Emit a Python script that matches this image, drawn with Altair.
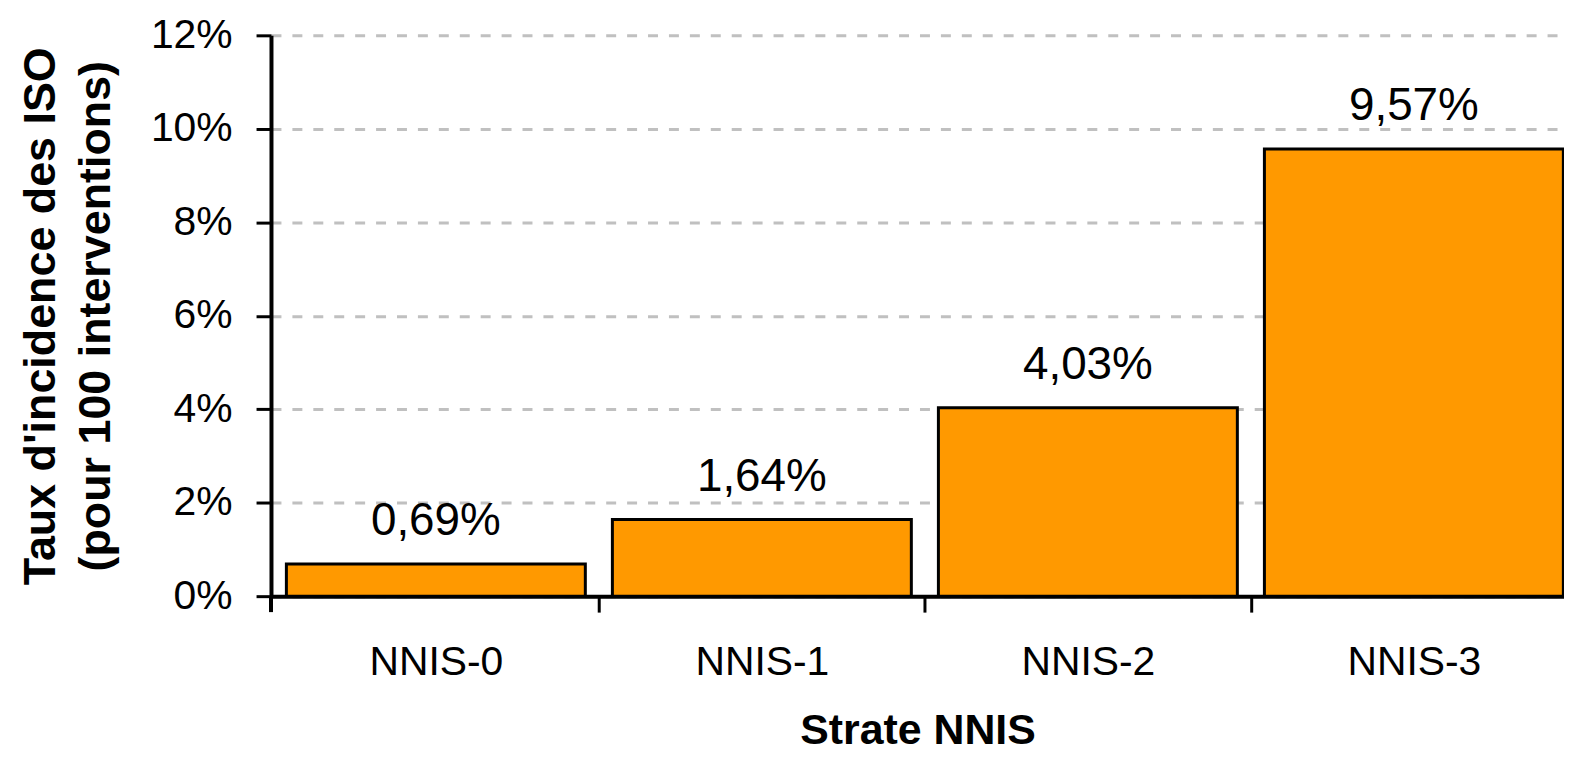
import altair as alt
import pandas as pd

categories = ["NNIS-0", "NNIS-1", "NNIS-2", "NNIS-3"]
values = [0.69, 1.64, 4.03, 9.57]
labels = ["0,69%", "1,64%", "4,03%", "9,57%"]
y_ticks = [0, 2, 4, 6, 8, 10, 12]
x_title = "Strate NNIS"
y_title = ["Taux d'incidence des ISO", "(pour 100 interventions)"]

df = pd.DataFrame({"strate": categories, "taux": values, "label": labels})

FONT = "Liberation Sans"
HALF_GAP = 13.6

x_enc = alt.X(
    "strate:N",
    sort=categories,
    title=x_title,
    scale=alt.Scale(paddingInner=0.083, paddingOuter=0.0246, align=0.96),
    axis=alt.Axis(
        labelAngle=0,
        bandPosition=1,
        tickExtra=False,
        tickOffset=HALF_GAP,
        labelOffset=-HALF_GAP,
        labelFontSize=41,
        labelFont=FONT,
        labelColor="black",
        labelBaseline="alphabetic",
        labelPadding=63,
        tickSize=16,
        tickWidth=3,
        tickColor="black",
        domainColor="black",
        domainWidth=4,
        titleFont=FONT,
        titleFontSize=43,
        titleFontWeight="bold",
        titleColor="black",
        titleBaseline="alphabetic",
        titleY=148,
        grid=False,
    ),
)

y_enc = alt.Y(
    "taux:Q",
    title=y_title,
    scale=alt.Scale(domain=[0, 12], nice=False),
    axis=alt.Axis(
        values=y_ticks,
        labelExpr="datum.value + '%'",
        labelFontSize=41,
        labelFont=FONT,
        labelColor="black",
        labelPadding=24,
        tickSize=15,
        tickWidth=3,
        tickColor="black",
        domainColor="black",
        domainWidth=4,
        grid=True,
        gridColor="#c0c0c0",
        gridDash=[10, 11],
        gridWidth=3,
        titleFont=FONT,
        titleFontSize=45,
        titleFontWeight="bold",
        titleColor="black",
        titleAngle=-90,
        titleAlign="center",
        titleBaseline="alphabetic",
        titleLineHeight=55,
        titleX=-217,
        titleY=281.5,
    ),
)

base = alt.Chart(df)

bars = base.mark_bar(color="#FF9900", stroke="black", strokeWidth=3).encode(
    x=x_enc, y=y_enc
)

text = base.mark_text(
    fontSize=46, font=FONT, color="black", baseline="alphabetic", dy=-29
).encode(x=x_enc, y=y_enc, text="label:N")

# downward extension of the y axis line below the x axis (first x tick)
axis_ext = (
    alt.Chart()
    .mark_rule(color="black", strokeWidth=4)
    .encode(x=alt.value(0), y=alt.value(563), y2=alt.value(579))
)

chart = (
    alt.layer(bars, text, axis_ext)
    .properties(
        width=1298,
        height=563,
        autosize=alt.AutoSizeParams(type="none"),
        padding={"left": 264, "top": 26, "right": 0, "bottom": 156},
        background="white",
    )
    .configure_view(stroke=None)
)

chart.save("out.html", embed_options={"renderer": "svg", "actions": False})
